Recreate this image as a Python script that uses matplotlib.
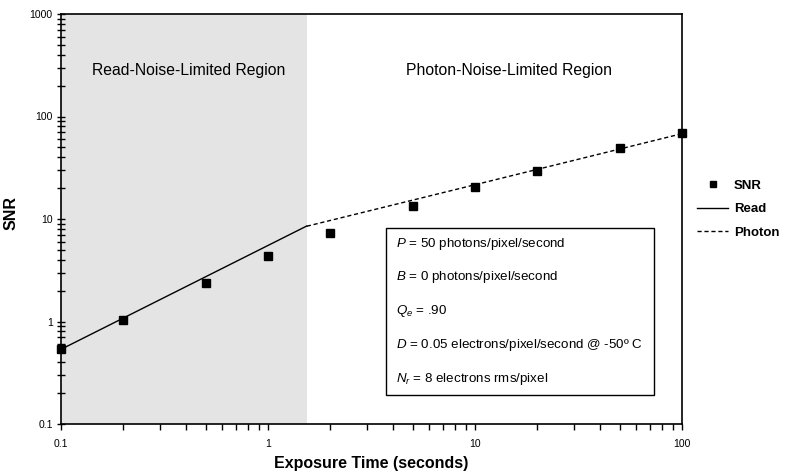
import matplotlib
matplotlib.use("Agg")
import matplotlib.pyplot as plt
from matplotlib.ticker import LogLocator, FixedLocator, NullFormatter
from matplotlib.lines import Line2D
from matplotlib.patches import Rectangle

plt.rcParams['font.family'] = ['Liberation Sans', 'DejaVu Sans']
plt.rcParams['mathtext.fontset'] = 'custom'
plt.rcParams['mathtext.it'] = 'Liberation Sans:italic'
plt.rcParams['mathtext.rm'] = 'Liberation Sans'

# Data
exposure = [0.1, 0.2, 0.5, 1, 2, 5, 10, 20, 50, 100]
snr = [0.535, 1.04, 2.39, 4.38, 7.24, 13.4, 20.5, 29.4, 49, 68.6]
read_t = [0.1, 1.54]
read_snr = [0.535, 8.55]
photon_t = [1.54, 100]
photon_snr = [8.5, 68]
shade_range = [0.1, 1.54]
xticks = [0.1, 1, 10, 100]
xtick_labels = ["0.1", "1", "10", "100"]
yticks = [0.1, 1, 10, 100, 1000]
ytick_labels = ["0.1", "1", "10", "100", "1000"]
region_labels = ["Read-Noise-Limited Region", "Photon-Noise-Limited Region"]
param_lines = [
    r"$\it{P}$ = 50 photons/pixel/second",
    r"$\it{B}$ = 0 photons/pixel/second",
    r"$\it{Q_e}$ = .90",
    r"$\it{D}$ = 0.05 electrons/pixel/second @ -50º C",
    r"$\it{N_r}$ = 8 electrons rms/pixel",
]

fig = plt.figure(figsize=(7.92, 4.72), dpi=100)
ax = fig.add_axes([61/792, 1-424/472, (682-61)/792, (424-14)/472])

ax.set_xscale('log')
ax.set_yscale('log')
ax.set_xlim(0.1, 100)
ax.set_ylim(0.1, 1000)

ax.axvspan(shade_range[0], shade_range[1], color='#e4e4e4', zorder=0, lw=0)

ax.plot(read_t, read_snr, color='black', lw=1.0, zorder=2)
ax.plot(photon_t, photon_snr, color='black', lw=1.0, ls=(0, (3, 2)), zorder=2)
ax.plot(exposure, snr, ls='none', marker='s', ms=6.2, color='black', zorder=3, clip_on=False)

ax.xaxis.set_major_locator(FixedLocator(xticks))
ax.set_xticklabels(xtick_labels)
ax.yaxis.set_major_locator(FixedLocator(yticks))
ax.set_yticklabels(ytick_labels)
ax.xaxis.set_minor_locator(LogLocator(base=10, subs=range(2, 10)))
ax.yaxis.set_minor_locator(LogLocator(base=10, subs=range(2, 10)))
ax.xaxis.set_minor_formatter(NullFormatter())
ax.yaxis.set_minor_formatter(NullFormatter())

ax.tick_params(axis='x', which='both', direction='out', length=4, width=1, labelsize=7.5, pad=7)
ax.tick_params(axis='y', which='both', direction='inout', length=6, width=1, labelsize=7.5, pad=3)
for s in ax.spines.values():
    s.set_linewidth(1.2)

ax.set_xlabel("Exposure Time (seconds)", fontsize=11.5, fontweight='bold')
ax.xaxis.set_label_coords(0.5, -0.078)
ax.set_ylabel("SNR", fontsize=11.5, fontweight='bold')
ax.yaxis.set_label_coords(-0.068, 0.515)

ax.text((189-61)/621, (424-70)/410, region_labels[0], transform=ax.transAxes,
        ha='center', va='center', fontsize=11.3)
ax.text((509-61)/621, (424-70)/410, region_labels[1], transform=ax.transAxes,
        ha='center', va='center', fontsize=11.3)

# Parameter box
bx0, bx1 = (386-61)/621, (654-61)/621
by0, by1 = (424-395)/410, (424-228)/410
ax.add_patch(Rectangle((bx0, by0), bx1-bx0, by1-by0, transform=ax.transAxes,
                       facecolor='white', edgecolor='black', lw=1.0, zorder=4))
ys = [244, 277.3, 310.7, 345, 379.3]
for y, t in zip(ys, param_lines):
    ax.text((396-61)/621, (424-y)/410, t, transform=ax.transAxes, ha='left',
            va='center', fontsize=9.6, zorder=5)

handles = [
    Line2D([], [], ls='none', marker='s', ms=4, color='black'),
    Line2D([], [], color='black', lw=1.0),
    Line2D([], [], color='black', lw=1.0, ls=(0, (3, 2))),
]
leg = fig.legend(handles, ["SNR", "Read", "Photon"], loc='center left',
                 bbox_to_anchor=(697/792, 1-209/472), frameon=False,
                 prop={'weight': 'bold', 'size': 9.5}, handlelength=2.35,
                 handletextpad=0.45, labelspacing=0.85, borderaxespad=0, borderpad=0)

fig.savefig("out.png", dpi=100)
